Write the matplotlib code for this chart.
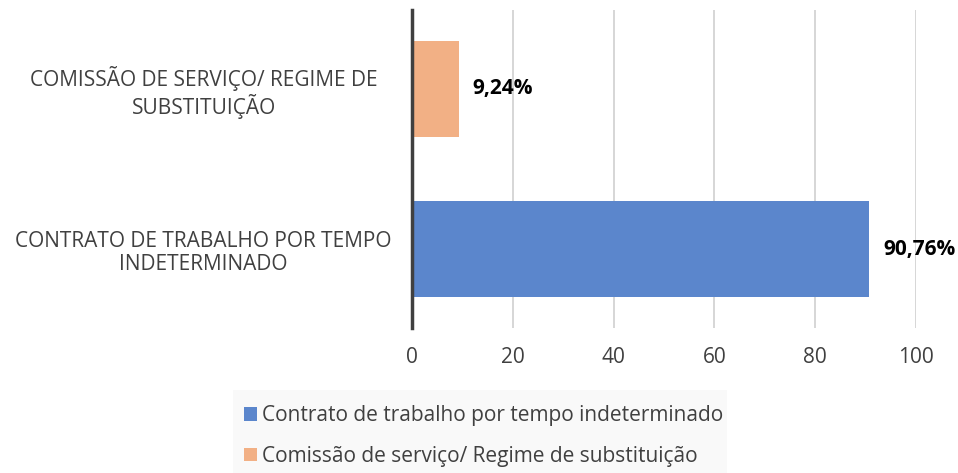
import matplotlib.pyplot as plt
from matplotlib.patches import Patch, Rectangle

# data
categories = ["CONTRATO DE TRABALHO POR TEMPO\nINDETERMINADO",
              "COMISSÃO DE SERVIÇO/ REGIME DE\nSUBSTITUIÇÃO"]
values = [90.76, 9.24]
labels = ["90,76%", "9,24%"]
legend_names = ["Contrato de trabalho por tempo indeterminado",
                "Comissão de serviço/ Regime de substituição"]
colors = ["#5b86cc", "#f2b085"]
xticks = [0, 20, 40, 60, 80, 100]

plt.rcParams['font.family'] = ['Open Sans', 'DejaVu Sans']
txt = "#404040"

fig = plt.figure(figsize=(9.58, 4.73), dpi=100)
ax = fig.add_axes([412/958, 1 - 328/473, 504/958, 318/473])

ypos = list(range(len(categories)))
ax.barh(ypos, values, height=0.6, color=colors, zorder=3)

for y, v, lab in zip(ypos, values, labels):
    ax.annotate(lab, (v, y), xytext=(10, 0), textcoords="offset points",
                va="center", ha="left", fontsize=15, fontweight="bold", color="black")

ax.set_xlim(0, 100)
ax.set_ylim(-0.49, 1.49)
ax.set_xticks(xticks)
ax.set_xticklabels([str(t) for t in xticks], fontsize=15, color=txt)
ax.set_yticks(ypos)
ax.set_yticklabels(categories, fontsize=15, color=txt, ha="center", linespacing=1.16)
ax.tick_params(axis="y", length=0, pad=150)
ax.tick_params(axis="x", length=0, pad=14)
ax.xaxis.grid(True, color="#d0d0d0", linewidth=1.2, zorder=0)
for s in ["top", "right", "bottom"]:
    ax.spines[s].set_visible(False)
ax.spines["left"].set_color("#404040")
ax.spines["left"].set_linewidth(2.5)
ax.spines["left"].set_zorder(4)

# legend background
fig.patches.append(Rectangle((233/958, 0), 494/958, 83/473, transform=fig.transFigure,
                             facecolor="#f9f9f9", edgecolor="none", zorder=0))
handles = [Patch(facecolor=c, edgecolor="none") for c in colors]
fig.legend(handles, legend_names, loc="upper left", bbox_to_anchor=(236/958, 1 - 397/473),
           frameon=False, fontsize=15, labelcolor=txt, handlelength=0.6, handleheight=0.6,
           handletextpad=0.25, labelspacing=0.95, borderaxespad=0)

fig.savefig("out.png", dpi=100)
